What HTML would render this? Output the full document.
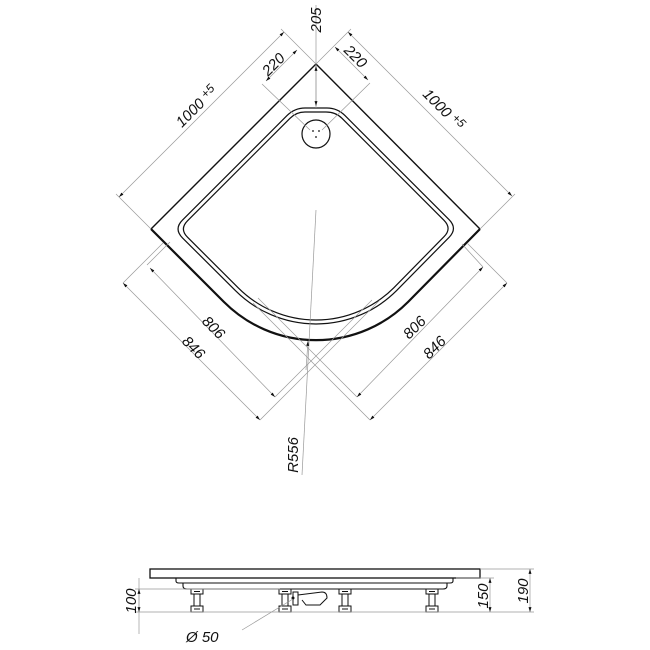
<!DOCTYPE html>
<html><head><meta charset="utf-8"><style>
html,body{margin:0;padding:0;background:#fff;}
svg{display:block;}
text{font-family:"Liberation Sans",Arial,sans-serif;font-size:15px;fill:#111;font-style:italic;}
.d{stroke:#999;stroke-width:0.7;fill:none;}
.k{stroke:#111;fill:none;}
</style></head><body>
<svg width="650" height="650" viewBox="0 0 650 650" xmlns="http://www.w3.org/2000/svg">
<defs>
<marker id="a" viewBox="0 0 10 10" refX="10" refY="5" markerWidth="7" markerHeight="7" orient="auto-start-reverse"><path d="M0,2 L10,5 L0,8 Z" fill="#111"/></marker>
</defs>
<path class="k" stroke-width="1.4" d="M316,64 L480,229"/>
<path class="k" stroke-width="1.4" d="M316,64 L151,229"/>
<path class="k" stroke-width="2.2" d="M480,229 L408,302 A130 130 0 0 1 224,302 L151,229"/>
<path class="k" stroke-width="1.2" d="M305,108 L327,108 Q337.4,108 345,115.6 L449,219.6 Q457.9,228.5 449,237.4 L396.6,290.6 A114 114 0 0 1 235.4,290.6 L182.5,237.9 Q173.6,229 182.5,220.1 L287,115.6 Q294.6,108 305,108 Z"/>
<path class="k" stroke-width="1.2" d="M305,112 L326,112 Q335.7,112 342,118.3 L444,220.3 Q452.2,228.5 444,236.7 L393.8,287.8 A110 110 0 0 1 238.2,287.8 L187.5,237.2 Q179.3,229 187.5,220.8 L290,118.3 Q296.3,112 305,112 Z"/>
<circle class="k" stroke-width="1.2" cx="316" cy="134" r="14"/>
<circle cx="313" cy="131" r="0.9" fill="#111"/><circle cx="319" cy="131" r="0.9" fill="#111"/><circle cx="316" cy="137" r="0.9" fill="#111"/>

<path class="d" d="M151,229 L116,194 M316,64 L281,29"/>
<path class="d" d="M119,197 L284,32" marker-start="url(#a)" marker-end="url(#a)"/>
<text transform="translate(200,110) rotate(-45)" text-anchor="middle">1000 <tspan font-size="12" dy="-4">+5</tspan></text>
<path class="d" d="M316,64 L351,29 M480,229 L515,194"/>
<path class="d" d="M348,32 L512,196" marker-start="url(#a)" marker-end="url(#a)"/>
<text transform="translate(440,113) rotate(45)" text-anchor="middle">1000 <tspan font-size="12" dy="-4">+5</tspan></text>
<path class="d" d="M262,84 L310,130 M370,83 L322,130"/>
<path class="d" d="M266,81 L297,50" marker-start="url(#a)" marker-end="url(#a)"/>
<path class="d" d="M335,47 L368,80" marker-start="url(#a)" marker-end="url(#a)"/>
<text transform="translate(277,68) rotate(-45)" text-anchor="middle">220</text>
<text transform="translate(352,60) rotate(45)" text-anchor="middle">220</text>
<path class="d" d="M316,5 L316,108"/>
<path class="d" d="M316,66 L316,106" marker-start="url(#a)" marker-end="url(#a)"/>
<text transform="translate(321,20) rotate(-90)" text-anchor="middle">205</text>
<path class="d" d="M316,210 L302,475"/>
<path class="d" d="M306,370 L308,341" marker-end="url(#a)"/>
<text transform="translate(298,455) rotate(-90)" text-anchor="middle">R556</text>

<path class="d" d="M123,283 L163,243 M147,265 L170,242"/>
<path class="d" d="M260,420 L380,300 M275,397 L372,300"/>
<path class="d" d="M123,283 L260,420" marker-start="url(#a)" marker-end="url(#a)"/>
<path class="d" d="M150,268 L275,397" marker-start="url(#a)" marker-end="url(#a)"/>
<text transform="translate(210,331) rotate(45)" text-anchor="middle">806</text>
<text transform="translate(190,351) rotate(45)" text-anchor="middle">846</text>
<path class="d" d="M507,283 L467,243 M483,267 L462,244"/>
<path class="d" d="M370,420 L253,303 M357,397 L258,298"/>
<path class="d" d="M507,283 L370,420" marker-start="url(#a)" marker-end="url(#a)"/>
<path class="d" d="M483,267 L357,397" marker-start="url(#a)" marker-end="url(#a)"/>
<text transform="translate(418,331) rotate(-45)" text-anchor="middle">806</text>
<text transform="translate(438,351) rotate(-45)" text-anchor="middle">846</text>

<rect class="k" stroke-width="1.3" x="150" y="569" width="330" height="9"/>
<path class="k" stroke-width="1.1" d="M176,578 L176,581 Q176,583 179,583 L450,583 Q453,583 453,581 L453,578"/>
<path class="k" stroke-width="1.1" d="M183,583 L183,586 Q183,589 187,589 L443,589 Q447,589 447,586 L447,583"/>
<g id="f"><rect x="191" y="589" width="12" height="5" fill="#fff" stroke="#111"/><path d="M194,591.5 H200" stroke="#111"/><rect x="194" y="594" width="6" height="12" fill="#fff" stroke="#111"/><rect x="191" y="606" width="12" height="6" fill="#fff" stroke="#111"/><path d="M194,609 H200" stroke="#111"/></g>
<use href="#f" x="88"/><use href="#f" x="148"/><use href="#f" x="235"/>
<path class="k" stroke-width="1" d="M293,592 L298,592 L298,605 L293,605 Z M298,595 L322,592 Q327,592 327,598 L320,605 L306,605 L302,600"/>
<circle cx="293" cy="598" r="1.5" fill="#111"/>
<path class="d" d="M293,599 L242,630"/>
<text x="186" y="642">Ø 50</text>
<path class="d" d="M139,578 L139,634 M135,589 L280,589 M135,612 L440,612"/>
<path class="d" d="M139,589 L139,612" marker-start="url(#a)" marker-end="url(#a)"/>
<text transform="translate(136,601) rotate(-90)" text-anchor="middle">100</text>
<path class="d" d="M456,578 L494,578 M480,569 L534,569 M440,612 L534,612"/>
<path class="d" d="M490,578 L490,612" marker-start="url(#a)" marker-end="url(#a)"/>
<path class="d" d="M530,569 L530,612" marker-start="url(#a)" marker-end="url(#a)"/>
<text transform="translate(488,596) rotate(-90)" text-anchor="middle">150</text>
<text transform="translate(528,591) rotate(-90)" text-anchor="middle">190</text>
</svg>
</body></html>
